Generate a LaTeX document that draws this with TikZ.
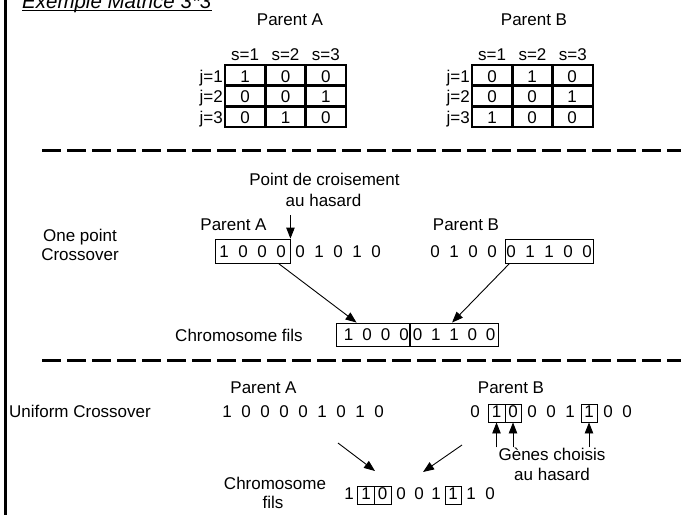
\documentclass[tikz,border=0pt]{standalone}
\usepackage{fontspec}
\setmainfont{Liberation Sans}
\usetikzlibrary{arrows.meta,calc}
\begin{document}
\begin{tikzpicture}[x=1pt,y=-1pt,
  every node/.style={font=\fontsize{17}{19}\selectfont, inner sep=0pt},
  lbl/.style={anchor=base},
  gene/.style={anchor=base},
  grid/.style={line width=2.4pt},
  chbox/.style={draw, line width=0.9pt, rectangle},
  sep/.style={line width=3pt, dash pattern=on 18.5pt off 6.5pt},
  arr/.style={line width=0.9pt, -{Triangle[length=11pt,width=8.5pt]}}]
\useasboundingbox (0,0) rectangle (681,515);

% frame and title
\draw[line width=2.6pt] (5.3,0) -- (5.3,515);
\node[anchor=base west, font=\fontsize{20.5}{24}\selectfont\itshape] (title) at (22,8) {Exemple Matrice 3*3};
\draw[line width=1.2pt] ([yshift=-2.5pt]title.base west) -- ([yshift=-2.5pt]title.base east);

% ---------- 3x3 matrices ----------
\node[lbl] (matA) at (290,25) {Parent A};
\node[lbl] (matB) at (534,25) {Parent B};
\foreach \x/\m in {225/a,472/b}{
  \draw[grid] (\x,65) rectangle ({\x+121},127);
  \foreach \c in {1,2} \draw[grid] ({\x+40.33*\c},65) -- ({\x+40.33*\c},127);
  \foreach \r in {1,2} \draw[grid] (\x,{65+20.67*\r}) -- ({\x+121},{65+20.67*\r});
  \foreach \c in {1,2,3} \node[lbl] (s\m\c) at ({\x+40.33*(\c-0.5)},60) {s=\c};
  \foreach \r in {1,2,3} \node[anchor=base east] (j\m\r) at ({\x-2},{65+20.67*(\r-0.5)+6.8}) {j=\r};
}
\foreach \r/\c/\v in {1/1/1,1/2/0,1/3/0,2/1/0,2/2/0,2/3/1,3/1/0,3/2/1,3/3/0}
  \node[lbl] (ma\r\c) at ({225+40.33*(\c-0.5)},{65+20.67*(\r-0.5)+6.8}) {\v};
\foreach \r/\c/\v in {1/1/0,1/2/1,1/3/0,2/1/0,2/2/0,2/3/1,3/1/1,3/2/0,3/3/0}
  \node[lbl] (mb\r\c) at ({472+40*(\c-0.5)},{65+20.67*(\r-0.5)+6.8}) {\v};

\draw[sep] (42,150) -- (690,150);

% ---------- one point crossover ----------
\node[lbl] (pc1) at (324.5,185) {Point de croisement};
\node[lbl] (pc2) at (323.5,206.5) {au hasard};
\node[lbl] (op1) at (80,241.5) {One point};
\node[lbl] (op2) at (80,260) {Crossover};
\node[lbl] (opA) at (233.5,230) {Parent A};
\node[lbl] (opB) at (466,230) {Parent B};
\foreach \v [count=\k] in {1,0,0,0,0,1,0,1,0}
  \node[gene] (opa\k) at ({224+19*(\k-1)},257) {\v};
\foreach \v [count=\k] in {0,1,0,0,0,1,1,0,0}
  \node[gene] (opb\k) at ({435+19*(\k-1)},257) {\v};
\node[chbox, minimum width=75pt, minimum height=24pt] (boxA) at (252.5,251) {};
\node[chbox, minimum width=88pt, minimum height=24pt] (boxB) at (549,251) {};

\coordinate (cut) at (boxA.north east);
\path (pc2.south -| cut) ++(0,8.5) coordinate (cuttail);
\draw[arr] (cuttail) -- (cut);

\node[lbl] (chf) at (239,341) {Chromosome fils};
\node[chbox, minimum width=73pt, minimum height=23pt] (chL) at (373,334.5) {};
\node[chbox, minimum width=87.5pt, minimum height=23pt] (chR) at (454.25,334.5) {};
\foreach \v [count=\k] in {1,0,0,0}
  \node[gene] (ocl\k) at ({348.5+18.5*(\k-1)},340.5) {\v};
\foreach \v [count=\k] in {0,1,1,0,0}
  \node[gene] (ocr\k) at ({417.5+18.25*(\k-1)},340.5) {\v};

\draw[arr] ([xshift=-12pt]boxA.south east) -- ([xshift=20.5pt]chL.north west);
\draw[arr] ([xshift=5pt]boxB.south west) -- ([xshift=42pt]chR.north west);

\draw[sep] (42,360) -- (690,360);

% ---------- uniform crossover ----------
\node[lbl] (uc) at (80,417) {Uniform Crossover};
\node[lbl] (uA) at (263.5,393) {Parent A};
\node[lbl] (uB) at (511,393) {Parent B};
\foreach \v [count=\k] in {1,0,0,0,0,1,0,1,0}
  \node[gene] (ua\k) at ({227+19*(\k-1)},417) {\v};
\foreach \v/\x [count=\k] in {0/475,1/496.5,0/513,0/532,0/551,1/570,1/589,0/608,0/627}
  \node[gene] (ub\k) at (\x,417) {\v};
\node[chbox, minimum width=17pt, minimum height=18pt] (bx1) at (496.5,413) {};
\node[chbox, minimum width=16pt, minimum height=18pt] (bx2) at (513,413) {};
\node[chbox, minimum width=16pt, minimum height=18pt] (bx3) at (589,413) {};

\node[lbl] (gc1) at (552,460) {Gènes choisis};
\node[lbl] (gc2) at (552,480) {au hasard};
\foreach \b in {bx1,bx2,bx3}
  \draw[arr] (gc1.north -| \b.south) -- (\b.south);

\node[lbl] (uf1) at (275,489) {Chromosome};
\node[lbl] (uf2) at (273,508) {fils};
\foreach \v/\x [count=\k] in {1/349,1/366,0/382.5,0/401,0/419,1/436,1/453,1/471,0/490}
  \node[gene] (uc\k) at (\x,499) {\v};
\node[chbox, minimum width=17pt, minimum height=18pt] (cb1) at (365.5,495) {};
\node[chbox, minimum width=17pt, minimum height=18pt] (cb2) at (382.5,495) {};
\node[chbox, minimum width=16pt, minimum height=18pt] (cb3) at (453,495) {};

\coordinate (ta) at (338,443);
\coordinate (ha) at (375,471);
\coordinate (tb) at (462,445);
\coordinate (hb) at (423,472);
\draw[arr] (ta) -- (ha);
\draw[arr] (tb) -- (hb);
\end{tikzpicture}
\end{document}
